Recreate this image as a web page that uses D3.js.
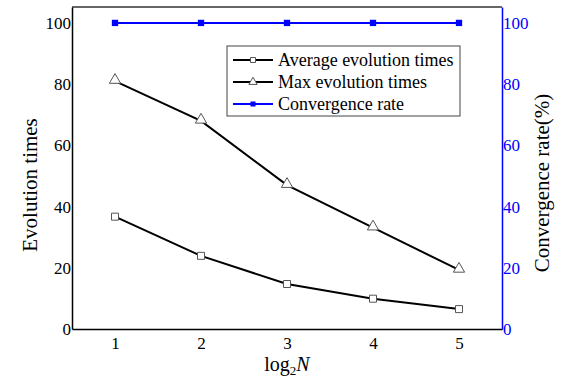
<!DOCTYPE html>
<html>
<head>
<meta charset="utf-8">
<script src="https://cdn.jsdelivr.net/npm/d3@7"></script>
<style>
  body { margin: 0; background: #fff; }
  svg text { font-family: "Liberation Serif", "Times New Roman", Times, "DejaVu Serif", serif !important; }
</style>
</head>
<body>
<div id="chart-area"></div>
<script>
var xValues = [1, 2, 3, 4, 5];
var avgTimes = [36.7, 23.9, 14.7, 9.9, 6.5];
var maxTimes = [81, 68, 47, 33.1, 19.3];
var convRate = [100, 100, 100, 100, 100];
var yTicks = [0, 20, 40, 60, 80, 100];

var svg = d3.select("#chart-area")
  .append("svg")
  .attr("width", 564)
  .attr("height", 383);

var margin = { top: 7, left: 72 };
var width = 502 - 72;
var height = 329 - 7;

var g = svg.append("g")
  .attr("transform", "translate(" + margin.left + "," + margin.top + ")");

var x = d3.scaleLinear().domain([0.5, 5.5]).range([0, width]);
var y = d3.scaleLinear().domain([0, 105.2]).range([height, 0]);
var y2 = d3.scaleLinear().domain([0, 105.2]).range([height, 0]);

// top border
g.append("line")
  .attr("x1", 0).attr("x2", width)
  .attr("y1", 0).attr("y2", 0)
  .attr("stroke", "#333").attr("stroke-width", 1.5);

var xAxis = g.append("g")
  .attr("transform", "translate(0," + height + ")")
  .call(d3.axisBottom(x).tickValues(xValues).tickSize(0).tickPadding(8).tickFormat(d3.format("d")));
xAxis.select(".domain").attr("stroke", "#000").attr("stroke-width", 1.5);
xAxis.selectAll("text").attr("font-size", "17px").attr("fill", "#000");

var yAxis = g.append("g")
  .call(d3.axisLeft(y).tickValues(yTicks).tickSize(0).tickPadding(1));
yAxis.select(".domain").attr("stroke", "#000").attr("stroke-width", 1.5);
yAxis.selectAll("text").attr("font-size", "17px").attr("fill", "#000");

var yAxis2 = g.append("g")
  .attr("transform", "translate(" + width + ",0)")
  .call(d3.axisRight(y2).tickValues(yTicks).tickSize(0).tickPadding(1));
yAxis2.select(".domain").attr("stroke", "#0000ff").attr("stroke-width", 1.5);
yAxis2.selectAll("text").attr("font-size", "17px").attr("fill", "#0000ff");

var line = d3.line().x((d, i) => x(xValues[i])).y(d => y(d));
var line2 = d3.line().x((d, i) => x(xValues[i])).y(d => y2(d));

g.append("path").datum(avgTimes).attr("d", line)
  .attr("fill", "none").attr("stroke", "#000").attr("stroke-width", 2);
g.append("path").datum(maxTimes).attr("d", line)
  .attr("fill", "none").attr("stroke", "#000").attr("stroke-width", 2);
g.append("path").datum(convRate).attr("d", line2)
  .attr("fill", "none").attr("stroke", "#0000ff").attr("stroke-width", 2);

var sq = d3.symbol().type(d3.symbolSquare).size(49);
var tri = d3.symbol().type(d3.symbolTriangle).size(55);
var sqFill = d3.symbol().type(d3.symbolSquare).size(40);

g.selectAll(".avg").data(avgTimes).enter().append("path")
  .attr("class", "avg")
  .attr("d", sq)
  .attr("transform", (d, i) => "translate(" + x(xValues[i]) + "," + y(d) + ")")
  .attr("fill", "#fff").attr("stroke", "#555").attr("stroke-width", 1);

g.selectAll(".max").data(maxTimes).enter().append("path")
  .attr("class", "max")
  .attr("d", tri)
  .attr("transform", (d, i) => "translate(" + x(xValues[i]) + "," + (y(d) - 1) + ")")
  .attr("fill", "#fff").attr("stroke", "#555").attr("stroke-width", 1);

g.selectAll(".conv").data(convRate).enter().append("path")
  .attr("class", "conv")
  .attr("d", sqFill)
  .attr("transform", (d, i) => "translate(" + x(xValues[i]) + "," + y2(d) + ")")
  .attr("fill", "#0000ff");

// legend
var legend = svg.append("g").attr("transform", "translate(227,46)");
legend.append("rect")
  .attr("width", 233).attr("height", 70)
  .attr("fill", "#fff").attr("stroke", "#444").attr("stroke-width", 1);

var legendItems = [
  { name: "Average evolution times", color: "#000", fill: "#fff", stroke: "#555" },
  { name: "Max evolution times", color: "#000", fill: "#fff", stroke: "#555" },
  { name: "Convergence rate", color: "#0000ff", fill: "#0000ff", stroke: "none" }
];
var rows = legend.selectAll(".row").data(legendItems).enter().append("g")
  .attr("transform", (d, i) => "translate(0," + (14 + i * 22) + ")");
rows.append("line")
  .attr("x1", 6).attr("x2", 46).attr("y1", 0).attr("y2", 0)
  .attr("stroke", d => d.color).attr("stroke-width", 2);
rows.append("path")
  .attr("d", (d, i) => i === 1 ? d3.symbol().type(d3.symbolTriangle).size(30)() : d3.symbol().type(d3.symbolSquare).size(25)())
  .attr("transform", "translate(26,0)")
  .attr("fill", d => d.fill).attr("stroke", d => d.stroke).attr("stroke-width", 1);
rows.append("text")
  .attr("x", 51).attr("y", 0).attr("dy", "0.35em")
  .attr("font-size", "18px").attr("fill", "#000")
  .text(d => d.name);

// axis labels
svg.append("text")
  .attr("transform", "translate(37,185) rotate(-90)")
  .attr("text-anchor", "middle")
  .attr("font-size", "21px")
  .text("Evolution times");

svg.append("text")
  .attr("transform", "translate(549,183) rotate(-90)")
  .attr("text-anchor", "middle")
  .attr("font-size", "21px")
  .text("Convergence rate(%)");

var xl = svg.append("text")
  .attr("x", 287).attr("y", 371)
  .attr("text-anchor", "middle")
  .attr("font-size", "20px");
xl.append("tspan").text("log");
xl.append("tspan").attr("font-size", "13px").attr("dy", 4).text("2");
xl.append("tspan").attr("font-style", "italic").attr("dy", -4).text("N");
</script>
</body>
</html>
